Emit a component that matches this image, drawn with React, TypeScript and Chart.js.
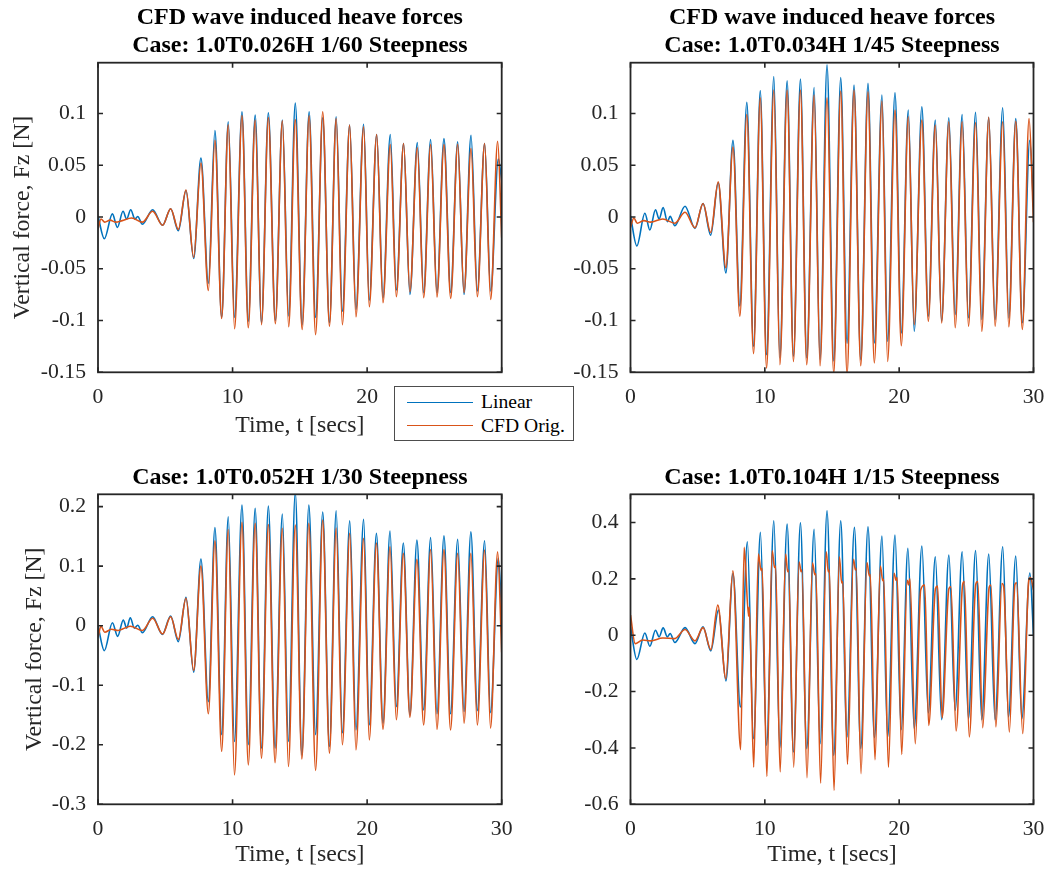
import React, { useEffect, useRef } from 'react';
import { Chart, registerables } from 'chart.js';

Chart.register(...registerables);

const SERIF = '"Liberation Serif", "Times New Roman", Times, serif';
const BLUE = '#0072BD';
const ORANGE = '#D95319';
const AXIS = '#262626';

type Pt = [number, number];

// ---- tick labels ----
const timeTicks = [0, 10, 20, 30];
const forceTicksTop = [-0.15, -0.1, -0.05, 0, 0.05, 0.1];
const forceTicks30 = [-0.3, -0.2, -0.1, 0, 0.1, 0.2];
const forceTicks15 = [-0.6, -0.4, -0.2, 0, 0.2, 0.4];

// ---- titles / labels ----
const title1 = ['CFD wave induced heave forces', 'Case: 1.0T0.026H 1/60 Steepness'];
const title2 = ['CFD wave induced heave forces', 'Case: 1.0T0.034H 1/45 Steepness'];
const title3 = ['Case: 1.0T0.052H 1/30 Steepness'];
const title4 = ['Case: 1.0T0.104H 1/15 Steepness'];
const xLabel = 'Time, t [secs]';
const yLabel = 'Vertical force, Fz [N]';
const seriesNames = ['Linear', 'CFD Orig.'];

// ---- Case 1/60 ----
const p1Linear: Pt[] = [
  [0, 0.001], [0.47, -0.021], [1.07, 0.003], [1.44, -0.01], [1.86, 0.0055], [2.13, -0.002], [2.43, 0.007],
  [2.75, -0.002], [2.95, 0.0005], [3.3, -0.007], [4.06, 0.007], [4.8, -0.008], [5.4, 0.008], [5.97, -0.0133],
  [6.54, 0.0256], [7.11, -0.04], [7.65, 0.057], [8.2, -0.064], [8.69, 0.0835], [9.19, -0.097], [9.68, 0.092],
  [10.15, -0.097], [10.7, 0.1016], [11.17, -0.1007], [11.68, 0.0984], [12.15, -0.102], [12.66, 0.1006],
  [13.18, -0.1], [13.7, 0.0935], [14.17, -0.0955], [14.66, 0.11], [15.17, -0.104], [15.69, 0.1016],
  [16.17, -0.097], [16.7, 0.0958], [17.2, -0.102], [17.7, 0.0968], [18.16, -0.091], [18.7, 0.0887],
  [19.17, -0.0893], [19.74, 0.0896], [20.16, -0.0803], [20.71, 0.0796], [21.18, -0.078], [21.72, 0.0796],
  [22.17, -0.0705], [22.71, 0.0709], [23.18, -0.0748], [23.73, 0.0718], [24.2, -0.0731], [24.72, 0.0748],
  [25.19, -0.073], [25.71, 0.0757], [26.21, -0.073], [26.73, 0.0725], [27.2, -0.0748], [27.72, 0.079],
  [28.19, -0.0715], [28.73, 0.0709], [29.18, -0.0715], [29.75, 0.056], [30, 0.035],
];
const p1Cfd: Pt[] = [
  [0, -0.012], [0.22, -0.002], [0.5, -0.005], [0.9, -0.003], [1.3, -0.005], [1.8, -0.0035], [2.5, -0.001],
  [3.3, -0.005], [4.06, 0.0055], [4.8, -0.008], [5.4, 0.008], [5.97, -0.012], [6.54, 0.026], [7.11, -0.039],
  [7.65, 0.052], [8.2, -0.071], [8.69, 0.074], [9.19, -0.098], [9.68, 0.089], [10.15, -0.108], [10.7, 0.098],
  [11.17, -0.107], [11.68, 0.0935], [12.15, -0.104], [12.66, 0.096], [13.18, -0.103], [13.7, 0.093],
  [14.17, -0.106], [14.66, 0.094], [15.17, -0.1087], [15.69, 0.0977], [16.17, -0.1136], [16.7, 0.1016],
  [17.2, -0.1055], [17.7, 0.095], [18.16, -0.104], [18.7, 0.0887], [19.17, -0.0964], [19.74, 0.087],
  [20.16, -0.0867], [20.71, 0.0796], [21.18, -0.0828], [21.72, 0.0699], [22.17, -0.077], [22.71, 0.0709],
  [23.18, -0.0722], [23.73, 0.0667], [24.2, -0.078], [24.72, 0.07], [25.19, -0.0773], [25.71, 0.07],
  [26.21, -0.0786], [26.73, 0.0702], [27.2, -0.073], [27.72, 0.066], [28.19, -0.077], [28.73, 0.0709],
  [29.18, -0.0796], [29.7, 0.0731], [30, -0.02],
];

// ---- Case 1/45 ----
const p2Linear: Pt[] = [
  [0, 0.001], [0.47, -0.028], [1.07, 0.0036], [1.44, -0.0126], [1.86, 0.007], [2.13, -0.002], [2.43, 0.009],
  [2.75, -0.0045], [2.95, 0.0006], [3.3, -0.0084], [4.06, 0.0104], [4.8, -0.011], [5.4, 0.013], [5.97, -0.0175],
  [6.53, 0.033], [7.1, -0.054], [7.63, 0.074], [8.14, -0.086], [8.66, 0.1107], [9.16, -0.125], [9.66, 0.122],
  [10.13, -0.133], [10.67, 0.1356], [11.12, -0.136], [11.66, 0.1314], [12.13, -0.1346], [12.65, 0.1333],
  [13.12, -0.136], [13.67, 0.125], [14.11, -0.1379], [14.63, 0.147], [15.13, -0.139], [15.65, 0.1346],
  [16.12, -0.122], [16.64, 0.1275], [17.14, -0.1379], [17.68, 0.129], [18.15, -0.1217], [18.72, 0.1178],
  [19.14, -0.12], [19.69, 0.12], [20.16, -0.112], [20.68, 0.1032], [21.12, -0.1104], [21.69, 0.1065],
  [22.17, -0.0958], [22.69, 0.0935], [23.16, -0.1007], [23.7, 0.0958], [24.17, -0.0942], [24.69, 0.099],
  [25.16, -0.0974], [25.69, 0.101], [26.15, -0.099], [26.67, 0.0963], [27.14, -0.099], [27.71, 0.1055],
  [28.16, -0.0974], [28.68, 0.095], [29.17, -0.102], [29.72, 0.074], [30, 0.01],
];
const p2Cfd: Pt[] = [
  [0, -0.01], [0.25, -0.001], [0.5, -0.006], [1.0, -0.0035], [1.5, -0.005], [2.4, -0.002], [3.3, -0.006],
  [4.06, 0.0045], [4.8, -0.0104], [5.4, 0.013], [5.97, -0.015], [6.53, 0.034], [7.1, -0.049], [7.63, 0.0676],
  [8.14, -0.0958], [8.66, 0.099], [9.16, -0.132], [9.66, 0.115], [10.13, -0.146], [10.67, 0.1226],
  [11.12, -0.1427], [11.66, 0.1226], [12.13, -0.1395], [12.65, 0.1226], [13.12, -0.1427], [13.67, 0.1178],
  [14.11, -0.1437], [14.63, 0.1152], [15.13, -0.151], [15.65, 0.1217], [16.12, -0.152], [16.64, 0.1226],
  [17.14, -0.1437], [17.68, 0.121], [18.15, -0.141], [18.72, 0.112], [19.14, -0.1395], [19.69, 0.1032],
  [20.16, -0.1243], [20.68, 0.0968], [21.12, -0.104], [21.69, 0.0935], [22.17, -0.1007], [22.69, 0.0887],
  [23.16, -0.1023], [23.7, 0.092], [24.17, -0.107], [24.69, 0.092], [25.16, -0.1055], [25.69, 0.0913],
  [26.15, -0.1104], [26.67, 0.0963], [27.14, -0.1055], [27.71, 0.092], [28.16, -0.106], [28.68, 0.0925],
  [29.17, -0.1087], [29.67, 0.095], [30, -0.005],
];

// ---- Case 1/30 ----
const p3Linear: Pt[] = [
  [0, 0], [0.47, -0.042], [1.07, 0.005], [1.46, -0.018], [1.88, 0.0096], [2.13, -0.004], [2.4, 0.0134],
  [2.7, -0.004], [2.95, 0.0007], [3.3, -0.0117], [4.06, 0.015], [4.78, -0.0145], [5.4, 0.0163], [5.97, -0.0268],
  [6.54, 0.0476], [7.11, -0.078], [7.65, 0.112], [8.2, -0.1275], [8.69, 0.165], [9.19, -0.183], [9.68, 0.183],
  [10.14, -0.1946], [10.7, 0.2025], [11.17, -0.2], [11.68, 0.197], [12.15, -0.2057], [12.66, 0.2008],
  [13.16, -0.2057], [13.7, 0.1874], [14.15, -0.1946], [14.66, 0.224], [15.15, -0.217], [15.67, 0.2025],
  [16.17, -0.183], [16.7, 0.191], [17.2, -0.203], [17.7, 0.193], [18.16, -0.18], [18.71, 0.176],
  [19.17, -0.175], [19.74, 0.1785], [20.16, -0.1666], [20.69, 0.155], [21.18, -0.1638], [21.7, 0.159],
  [22.17, -0.136], [22.69, 0.139], [23.18, -0.15], [23.7, 0.1438], [24.2, -0.1414], [24.72, 0.148],
  [25.19, -0.148], [25.71, 0.151], [26.2, -0.148], [26.73, 0.145], [27.2, -0.144], [27.71, 0.1577],
  [28.19, -0.1426], [28.73, 0.1426], [29.17, -0.146], [29.75, 0.113], [30, 0.02],
];
const p3Cfd: Pt[] = [
  [0, -0.02], [0.22, -0.001], [0.5, -0.011], [1.0, -0.006], [1.5, -0.008], [2.0, -0.004], [2.4, -0.001],
  [3.3, -0.008], [4.06, 0.0125], [4.8, -0.014], [5.4, 0.015], [5.97, -0.023], [6.54, 0.046], [7.11, -0.075],
  [7.65, 0.1], [8.2, -0.148], [8.69, 0.1426], [9.19, -0.211], [9.68, 0.1617], [10.14, -0.2505], [10.7, 0.1735],
  [11.17, -0.2337], [11.68, 0.1718], [12.15, -0.2225], [12.66, 0.17], [13.16, -0.23], [13.7, 0.1634],
  [14.15, -0.2366], [14.66, 0.169], [15.15, -0.224], [15.67, 0.1718], [16.17, -0.243], [16.7, 0.1773],
  [17.2, -0.214], [17.7, 0.164], [18.16, -0.2], [18.71, 0.155], [19.17, -0.2086], [19.74, 0.1466],
  [20.16, -0.1918], [20.69, 0.139], [21.18, -0.174], [21.7, 0.1326], [22.17, -0.158], [22.69, 0.1214],
  [23.18, -0.1537], [23.7, 0.1114], [24.2, -0.1666], [24.72, 0.128], [25.19, -0.174], [25.71, 0.128],
  [26.2, -0.175], [26.73, 0.1214], [27.2, -0.1638], [27.71, 0.1214], [28.19, -0.1666], [28.73, 0.127],
  [29.17, -0.172], [29.7, 0.124], [30, -0.045],
];

// ---- Case 1/15 ----
const p4Linear: Pt[] = [
  [0, 0.03], [0.47, -0.086], [1.07, 0.008], [1.44, -0.039], [1.86, 0.0178], [2.13, -0.006], [2.43, 0.026],
  [2.75, -0.006], [2.95, 0.006], [3.3, -0.026], [4.06, 0.027], [4.8, -0.03], [5.4, 0.03], [5.98, -0.0557],
  [6.55, 0.089], [7.1, -0.162], [7.63, 0.219], [8.18, -0.2547], [8.7, 0.3315], [9.16, -0.367], [9.67, 0.365],
  [10.13, -0.3908], [10.67, 0.406], [11.12, -0.399], [11.66, 0.394], [12.13, -0.4145], [12.65, 0.399],
  [13.12, -0.4025], [13.67, 0.3755], [14.12, -0.385], [14.63, 0.4416], [15.13, -0.4263], [15.65, 0.406],
  [16.12, -0.361], [16.67, 0.3826], [17.14, -0.4025], [17.68, 0.385], [18.16, -0.3635], [18.72, 0.3517],
  [19.14, -0.362], [19.69, 0.3552], [20.15, -0.335], [20.65, 0.308], [21.12, -0.3315], [21.69, 0.316],
  [22.17, -0.276], [22.69, 0.278], [23.16, -0.2995], [23.7, 0.284], [24.17, -0.2664], [24.69, 0.296],
  [25.16, -0.296], [25.69, 0.3], [26.15, -0.2995], [26.67, 0.2877], [27.14, -0.3], [27.71, 0.3137],
  [28.14, -0.29], [28.68, 0.2806], [29.13, -0.296], [29.73, 0.221], [30, 0.0],
];
const p4Cfd: Pt[] = [
  [0, 0.071], [0.35, -0.03], [0.9, -0.017], [1.5, -0.02], [2.4, -0.01], [3.3, -0.012], [4.06, 0.02],
  [4.8, -0.02], [5.4, 0.027], [5.98, -0.051], [6.5, 0.1066], [7.1, -0.154], [7.62, 0.2285], [8.2, -0.406],
  [8.46, 0.3115], [8.79, 0.0675], [8.84, 0.1], [9.17, -0.468], [9.52, 0.2877], [9.72, 0.23], [9.8, 0.237],
  [10.15, -0.501], [10.55, 0.2995], [10.72, 0.24], [10.8, 0.245], [11.14, -0.4855], [11.55, 0.2877],
  [11.7, 0.225], [11.76, 0.231], [12.15, -0.468], [12.55, 0.26], [12.7, 0.225], [12.76, 0.231],
  [13.14, -0.5055], [13.55, 0.257], [13.72, 0.215], [13.8, 0.219], [14.15, -0.5246], [14.57, 0.296],
  [14.72, 0.225], [14.8, 0.231], [15.15, -0.5506], [15.55, 0.278], [15.72, 0.185], [15.8, 0.19],
  [16.15, -0.458], [16.6, 0.269], [16.74, 0.232], [16.8, 0.237], [17.16, -0.491], [17.6, 0.258],
  [17.78, 0.21], [17.85, 0.215], [18.2, -0.4417], [18.6, 0.245], [18.78, 0.193], [18.85, 0.198],
  [19.2, -0.468], [19.62, 0.22], [19.76, 0.195], [19.85, 0.205], [20.19, -0.4227], [20.6, 0.195],
  [20.7, 0.178], [20.8, 0.2], [21.2, -0.385], [21.6, 0.16], [21.9, 0.178], [22.2, -0.32], [22.7, 0.165],
  [22.86, 0.174], [23.2, -0.2925], [23.7, 0.165], [23.85, 0.1716], [24.24, -0.34], [24.72, 0.178],
  [24.85, 0.19], [25.22, -0.361], [25.7, 0.18], [25.85, 0.19], [26.22, -0.328], [26.7, 0.17], [26.83, 0.178],
  [27.2, -0.325], [27.65, 0.1836], [27.78, 0.172], [28.2, -0.3435], [28.62, 0.18], [28.74, 0.186],
  [29.2, -0.349], [29.65, 0.195], [29.78, 0.205], [30, 0.16],
];

// ---- frame with inward ticks (MATLAB box style) ----
const framePlugin = {
  id: 'matlabFrame',
  afterDatasetsDraw(chart: any) {
    const { ctx, chartArea: a, scales } = chart;
    ctx.save();
    ctx.strokeStyle = AXIS;
    ctx.lineWidth = 1.8;
    ctx.strokeRect(a.left, a.top, a.right - a.left, a.bottom - a.top);
    ctx.lineWidth = 1.6;
    const len = 5;
    ctx.beginPath();
    for (const t of scales.x.ticks) {
      const px = scales.x.getPixelForValue(t.value);
      ctx.moveTo(px, a.bottom);
      ctx.lineTo(px, a.bottom - len);
      ctx.moveTo(px, a.top);
      ctx.lineTo(px, a.top + len);
    }
    for (const t of scales.y.ticks) {
      const py = scales.y.getPixelForValue(t.value);
      ctx.moveTo(a.left, py);
      ctx.lineTo(a.left + len, py);
      ctx.moveTo(a.right, py);
      ctx.lineTo(a.right - len, py);
    }
    ctx.stroke();
    ctx.restore();
  },
};

type PanelCfg = {
  id: string;
  left: number;
  top: number;
  w: number;
  h: number;
  area: { left: number; right: number; top: number; bottom: number };
  title: string[];
  titlePadTop: number;
  linear: Pt[];
  cfd: Pt[];
  yMin: number;
  yMax: number;
  yTicks: number[];
  yTitlePad: number | null;
  xTitlePad: number | null;
};

const panels: PanelCfg[] = [
  {
    id: 'p1', left: 0, top: 0, w: 520, h: 440,
    area: { left: 98, right: 501.7, top: 62.7, bottom: 372.3 },
    title: title1, titlePadTop: 4,
    linear: p1Linear, cfd: p1Cfd, yMin: -0.15, yMax: 0.149, yTicks: forceTicksTop,
    yTitlePad: 8.2, xTitlePad: 0.3,
  },
  {
    id: 'p2', left: 525, top: 0, w: 524, h: 440,
    area: { left: 105.5, right: 508.5, top: 62.7, bottom: 372.3 },
    title: title2, titlePadTop: 4,
    linear: p2Linear, cfd: p2Cfd, yMin: -0.15, yMax: 0.149, yTicks: forceTicksTop,
    yTitlePad: null, xTitlePad: null,
  },
  {
    id: 'p3', left: 0, top: 440, w: 520, h: 435,
    area: { left: 98, right: 501.7, top: 54.3, bottom: 364.3 },
    title: title3, titlePadTop: 23.7,
    linear: p3Linear, cfd: p3Cfd, yMin: -0.3, yMax: 0.2207, yTicks: forceTicks30,
    yTitlePad: 20.5, xTitlePad: 6.4,
  },
  {
    id: 'p4', left: 525, top: 440, w: 524, h: 435,
    area: { left: 105.5, right: 508.5, top: 54.3, bottom: 364.3 },
    title: title4, titlePadTop: 23.7,
    linear: p4Linear, cfd: p4Cfd, yMin: -0.6, yMax: 0.5, yTicks: forceTicks15,
    yTitlePad: null, xTitlePad: 6,
  },
];

const TITLE_LH = 28;

function Panel({ cfg }: { cfg: PanelCfg }) {
  const ref = useRef<HTMLCanvasElement>(null);
  useEffect(() => {
    const canvas = ref.current;
    if (!canvas) return;
    const toXY = (arr: Pt[]) => arr.map(([x, y]) => ({ x, y }));
    const tickFont = { family: SERIF, size: 21.7 };
    const labelFont = { family: SERIF, size: 23.8, lineHeight: 1.2 };
    const chart = new Chart(canvas, {
      type: 'line',
      data: {
        datasets: [
          {
            label: seriesNames[0],
            data: toXY(cfg.linear),
            borderColor: BLUE,
            borderWidth: 1.6,
            pointRadius: 0,
            fill: false,
            cubicInterpolationMode: 'monotone',
            order: 1,
          },
          {
            label: seriesNames[1],
            data: toXY(cfg.cfd),
            borderColor: ORANGE,
            borderWidth: 1.6,
            pointRadius: 0,
            fill: false,
            cubicInterpolationMode: 'monotone',
            order: 0,
          },
        ],
      },
      options: {
        responsive: false,
        animation: false,
        devicePixelRatio: 1,
        events: [],
        layout: { padding: { left: 0, right: cfg.w - cfg.area.right, top: 0, bottom: 0 } },
        plugins: {
          legend: { display: false },
          tooltip: { enabled: false },
          title: {
            display: true,
            text: cfg.title,
            fullSize: false,
            color: '#000',
            font: { family: SERIF, size: 24, weight: 'bold', lineHeight: TITLE_LH / 24 },
            padding: {
              top: cfg.titlePadTop,
              bottom: cfg.area.top - cfg.titlePadTop - TITLE_LH * cfg.title.length,
            },
          },
        },
        scales: {
          x: {
            type: 'linear',
            min: 0,
            max: 30,
            afterBuildTicks: (s: any) => {
              s.ticks = timeTicks.map((v) => ({ value: v }));
            },
            afterFit: (s: any) => {
              s.height = cfg.h - cfg.area.bottom;
              s.paddingLeft = 0;
              s.paddingRight = 0;
            },
            grid: { display: false, drawTicks: false },
            border: { display: false },
            ticks: {
              padding: 12,
              autoSkip: false,
              maxRotation: 0,
              minRotation: 0,
              color: AXIS,
              font: tickFont,
              callback: (v: any) => String(v),
            },
            title: {
              display: cfg.xTitlePad !== null,
              text: xLabel,
              color: AXIS,
              font: labelFont,
              padding: { top: 0, bottom: cfg.xTitlePad ?? 0 },
            },
          },
          y: {
            type: 'linear',
            min: cfg.yMin,
            max: cfg.yMax,
            afterBuildTicks: (s: any) => {
              s.ticks = cfg.yTicks.map((v) => ({ value: v }));
            },
            afterFit: (s: any) => {
              s.width = cfg.area.left;
              s.paddingTop = 0;
              s.paddingBottom = 0;
            },
            grid: { display: false, drawTicks: false },
            border: { display: false },
            ticks: {
              padding: 12,
              autoSkip: false,
              color: AXIS,
              font: tickFont,
              callback: (v: any) => String(v),
            },
            title: {
              display: cfg.yTitlePad !== null,
              text: yLabel,
              color: AXIS,
              font: labelFont,
              padding: { top: cfg.yTitlePad ?? 0, bottom: 0 },
            },
          },
        },
      } as any,
      plugins: [framePlugin],
    });
    return () => chart.destroy();
  }, [cfg]);
  return (
    <canvas
      ref={ref}
      width={cfg.w}
      height={cfg.h}
      style={{ position: 'absolute', left: cfg.left, top: cfg.top, width: cfg.w, height: cfg.h }}
    />
  );
}

function Legend() {
  const rowStyle = (top: number): React.CSSProperties => ({
    position: 'absolute',
    left: 86.3,
    top,
    height: 22,
    lineHeight: '22px',
    whiteSpace: 'nowrap',
    color: '#000',
  });
  return (
    <div
      style={{
        position: 'absolute',
        left: 393.7,
        top: 386,
        width: 180.5,
        height: 55,
        boxSizing: 'border-box',
        border: '1px solid #4d4d4d',
        background: '#fff',
        fontFamily: SERIF,
        fontSize: 19.6,
      }}
    >
      <div style={{ position: 'absolute', left: 12.3, top: 14.5, width: 66, height: 0, borderTop: `1.6px solid ${BLUE}` }} />
      <span style={rowStyle(4.3)}>{seriesNames[0]}</span>
      <div style={{ position: 'absolute', left: 12.3, top: 37.9, width: 66, height: 0, borderTop: `1.6px solid ${ORANGE}` }} />
      <span style={rowStyle(27.7)}>{seriesNames[1]}</span>
    </div>
  );
}

export default function App() {
  return (
    <div style={{ position: 'absolute', left: 0, top: 0, width: 1049, height: 875, background: '#fff', overflow: 'hidden' }}>
      {panels.map((p) => (
        <Panel key={p.id} cfg={p} />
      ))}
      <Legend />
    </div>
  );
}
